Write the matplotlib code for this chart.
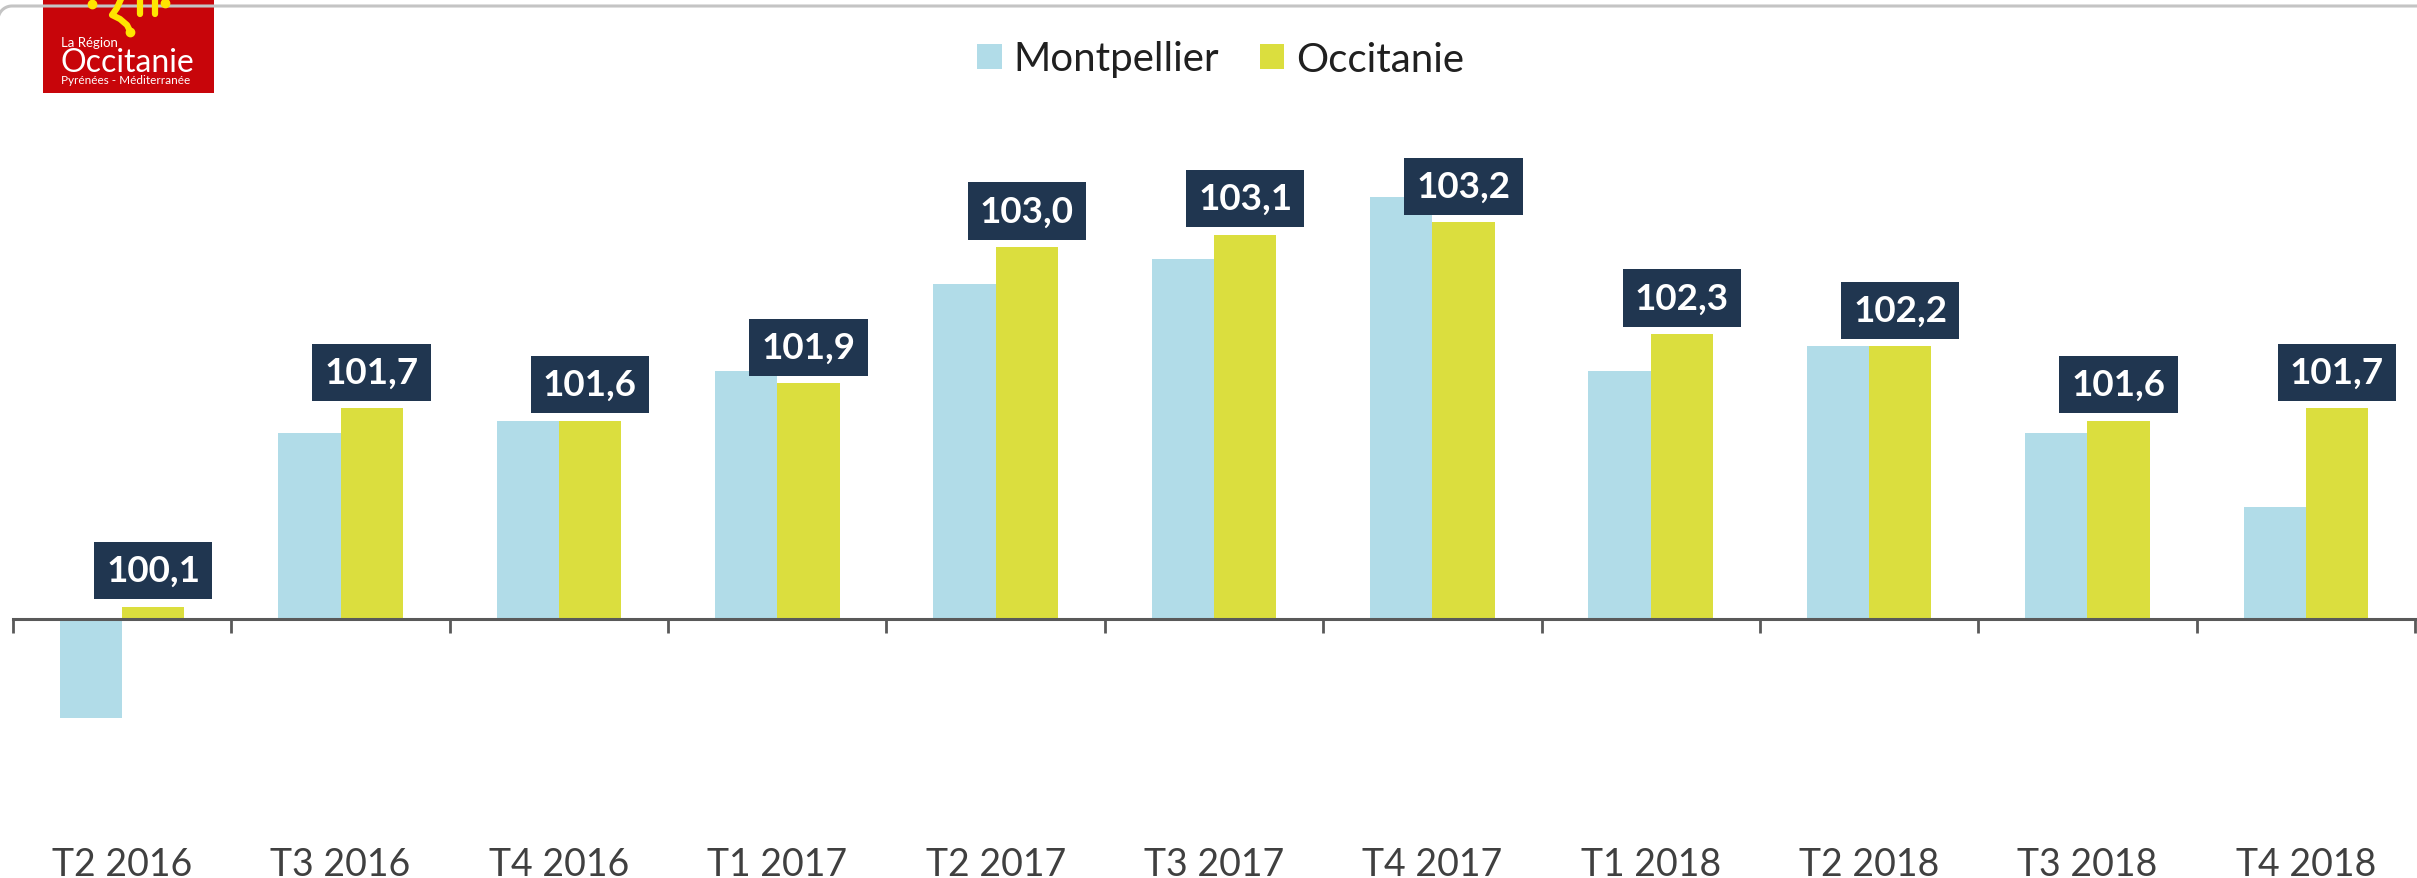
import matplotlib
matplotlib.use('Agg')
import matplotlib.pyplot as plt
import numpy as np
from matplotlib.patches import Rectangle, Patch
from matplotlib.lines import Line2D

# quarters and index values (base 100)
quarters = ['T2 2016', 'T3 2016', 'T4 2016', 'T1 2017', 'T2 2017', 'T3 2017',
            'T4 2017', 'T1 2018', 'T2 2018', 'T3 2018', 'T4 2018']
montpellier = [99.2, 101.5, 101.6, 102.0, 102.7, 102.9, 103.4, 102.0, 102.2, 101.5, 100.9]
occitanie = [100.1, 101.7, 101.6, 101.9, 103.0, 103.1, 103.2, 102.3, 102.2, 101.6, 101.7]

blue = '#B1DCE8'
yellow = '#DBDE3E'
navy = '#203650'
grey_txt = '#404040'

plt.rcParams['font.family'] = ['Lato', 'DejaVu Sans']

W, H = 2417, 879
fig = plt.figure(figsize=(W / 100, H / 100), dpi=100)


def fpx(px, py):
    return px / W, 1 - py / H


# top edge of the rounded frame around the chart
t = np.linspace(np.pi / 2, np.pi, 20)
frame_x = list(12 + 14 * np.cos(t))[::-1] + [W + 5]
frame_y = list(21 - 14 * np.sin(t))[::-1] + [7]
frame_x, frame_y = frame_x[::-1], frame_y[::-1]
fx, fy = zip(*[fpx(a, b) for a, b in zip(frame_x, frame_y)])
fig.add_artist(Line2D(fx, fy, color='#C4C4C4', linewidth=2.2))

ax = fig.add_axes([13 / W, 0, 2402 / W, 1])
ax.set_xlim(-0.5, len(quarters) - 0.5)
base = 100
px_per_unit = 124
axis_y = 620
ax.set_ylim(base - (H - axis_y) / px_per_unit, base + axis_y / px_per_unit)
ax.set_facecolor('none')

x = np.arange(len(quarters))
w = 0.285
ax.bar(x - w / 2, np.array(montpellier) - base, w, bottom=base, color=blue, label='Montpellier')
ax.bar(x + w / 2, np.array(occitanie) - base, w, bottom=base, color=yellow, label='Occitanie')

# value labels over the Occitanie bars
for xi, v in zip(x, occitanie):
    ax.annotate(f'{v:.1f}'.replace('.', ','), (xi + w / 2, v), xytext=(0, 14),
                textcoords='offset points', ha='center', va='bottom',
                fontsize=26.5, fontweight='bold', color='white',
                bbox=dict(boxstyle='square,pad=0.33', facecolor=navy, edgecolor='none'))

for s in ['top', 'left', 'right']:
    ax.spines[s].set_visible(False)
ax.spines['bottom'].set_position(('data', base))
ax.spines['bottom'].set_color('#595959')
ax.spines['bottom'].set_linewidth(2.2)
ax.set_yticks([])
ax.set_xticks(np.arange(-0.5, len(quarters)), labels=[])
ax.tick_params(axis='x', direction='out', length=10, width=2, color='#595959')

# category labels, partly cut by the bottom edge like the original
label_y = base - (876 - axis_y) / px_per_unit
for xi, q in zip(x, quarters):
    ax.text(xi, label_y, q, ha='center', va='baseline', fontsize=27, color=grey_txt)

handles = [Patch(facecolor=blue, label='Montpellier'), Patch(facecolor=yellow, label='Occitanie')]
fig.legend(handles=handles, loc='center', bbox_to_anchor=(0.505, 1 - 60 / H), ncol=2,
           frameon=False, fontsize=29, handlelength=0.6, handleheight=0.6,
           handletextpad=0.3, columnspacing=1.0, labelcolor='#202020')

# logo of the region (red block)
logo = Rectangle((43 / W, 1 - 94 / H), 171 / W, 94 / H, transform=fig.transFigure,
                 facecolor='#C8050A', edgecolor='none')
fig.patches.append(logo)

# yellow strokes of the cross, cropped at the top
strokes = [[(121, 0), (117, 9), (112, 16), (120, 20), (127, 26), (130, 32)],
           [(140, 0), (140, 15)], [(155, 0), (155, 15)]]
for s in strokes:
    xs, ys = zip(*[fpx(*p) for p in s])
    fig.add_artist(Line2D(xs, ys, color='#FFE500', linewidth=4.5, solid_capstyle='round',
                          solid_joinstyle='round'))
for p in [(92, 5), (165, 4), (130, 33)]:
    fig.add_artist(Line2D([fpx(*p)[0]], [fpx(*p)[1]], marker='o', markersize=6, color='#FFE500'))
fig.text(61 / W, 1 - 43 / H, 'La Région', fontsize=9.5, color='white', va='center')
fig.text(60 / W, 1 - 63 / H, 'Occitanie', fontsize=23, color='white', va='center')
fig.text(61 / W, 1 - 81 / H, 'Pyrénées - Méditerranée', fontsize=8.5, color='white', va='center')

fig.savefig('out.png', dpi=100)
